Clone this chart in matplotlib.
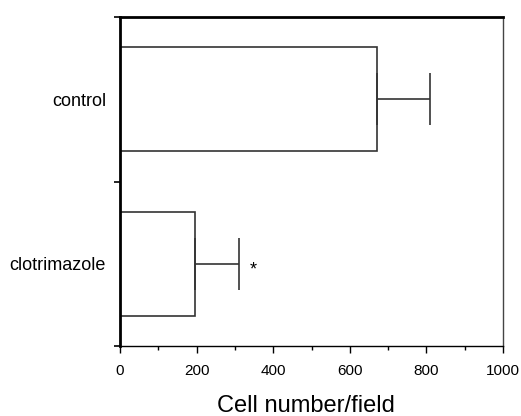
import matplotlib
matplotlib.use("Agg")
import matplotlib.pyplot as plt
from matplotlib.ticker import MultipleLocator

categories = ["clotrimazole", "control"]
values = [195, 670]
errors = [117, 140]

plt.rcParams['font.family'] = ['Liberation Sans', 'DejaVu Sans']

fig = plt.figure(figsize=(5.21, 4.16), dpi=100)
ax = fig.add_axes([0.2303, 0.1683, 0.7352, 0.7908])

pos = [0.5, 1.5]
ax.barh(pos, values, height=0.63, color='white', edgecolor='#333333', linewidth=1.2)
ax.errorbar(values, pos, xerr=[[0]*len(errors), errors], fmt='none',
            ecolor='#333333', elinewidth=1.2, capsize=18.5, capthick=1.2)
ax.text(values[0] + errors[0] + 37, pos[0] - 0.04, '*', ha='center', va='center', fontsize=13)

ax.set_xlim(0, 1000)
ax.set_ylim(0, 2)
ax.xaxis.set_major_locator(MultipleLocator(200))
ax.xaxis.set_minor_locator(MultipleLocator(100))
ax.set_yticks([0, 1, 2], minor=False)
ax.set_yticklabels([])
ax.set_yticks(pos, minor=True)
ax.set_yticklabels(categories, minor=True)
ax.tick_params(axis='y', which='minor', length=0, labelsize=13, pad=10)
ax.tick_params(axis='y', which='major', length=4, width=1.2)
ax.tick_params(axis='x', which='major', length=5, width=1, labelsize=11, pad=8)
ax.tick_params(axis='x', which='minor', length=3, width=1)

ax.spines['left'].set_linewidth(2)
ax.spines['top'].set_linewidth(2)
ax.spines['right'].set_linewidth(1)
ax.spines['bottom'].set_linewidth(1)
ax.spines['right'].set_color('#444444')

fig.text(305.5 / 521, 4 / 416, 'Cell number/field', fontsize=17, ha='center', va='baseline')

fig.savefig('out.png', dpi=100)
